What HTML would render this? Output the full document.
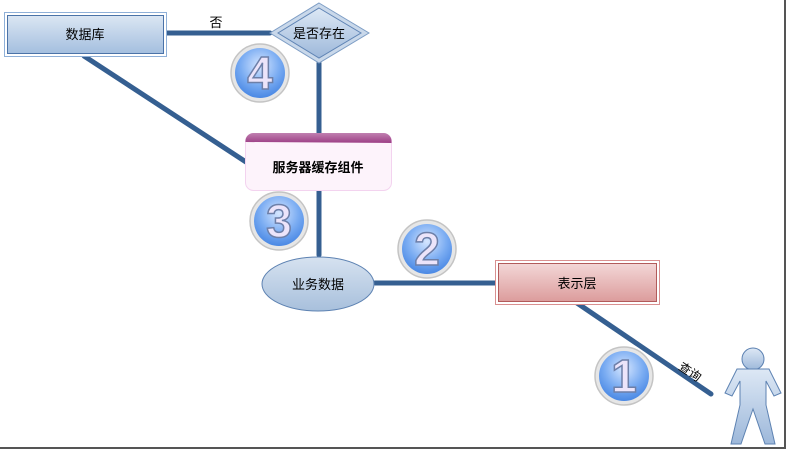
<!DOCTYPE html>
<html><head><meta charset="utf-8"><style>
html,body{margin:0;padding:0;background:#fff;}
svg{display:block;}
text{font-family:"Liberation Sans","Noto Sans CJK SC",sans-serif;}
</style></head><body>
<svg width="787" height="451" viewBox="0 0 787 451" xmlns="http://www.w3.org/2000/svg">
<defs>
<linearGradient id="gb" x1="0" y1="0" x2="0" y2="1"><stop offset="0" stop-color="#dbe6f3"/><stop offset="1" stop-color="#a4bfdf"/></linearGradient>
<linearGradient id="gr" x1="0" y1="0" x2="0" y2="1"><stop offset="0" stop-color="#f3d7d7"/><stop offset="1" stop-color="#dc9c9c"/></linearGradient>
<linearGradient id="gp" x1="0" y1="0" x2="0" y2="1"><stop offset="0" stop-color="#c080b0"/><stop offset="1" stop-color="#9c3e85"/></linearGradient>
<linearGradient id="ge" x1="0" y1="0" x2="0" y2="1"><stop offset="0" stop-color="#d6e2f0"/><stop offset="1" stop-color="#a8c0dc"/></linearGradient>
<radialGradient id="gc" cx="0.5" cy="0.35" r="0.65"><stop offset="0" stop-color="#d6e6ff"/><stop offset="0.6" stop-color="#7aacf2"/><stop offset="1" stop-color="#4a88e4"/></radialGradient>
<linearGradient id="gm" x1="0" y1="0" x2="0" y2="1"><stop offset="0" stop-color="#dde8f5"/><stop offset="1" stop-color="#9db8da"/></linearGradient>
</defs>
<rect x="0" y="0" width="785" height="448" fill="#fff"/>
<line x1="785" y1="0" x2="785" y2="449" stroke="#555" stroke-width="2"/>
<line x1="0" y1="448" x2="786" y2="448" stroke="#555" stroke-width="2"/>
<g stroke="#355f91" stroke-width="5" stroke-linecap="round" fill="none">
<line x1="164" y1="33" x2="270" y2="33"/>
<line x1="319" y1="63" x2="319" y2="133"/>
<line x1="84" y1="56" x2="246" y2="162"/>
<line x1="319" y1="190" x2="319" y2="255"/>
<line x1="375" y1="283" x2="497" y2="283"/>
<line x1="577" y1="303" x2="711" y2="394"/>
</g>
<text x="216" y="27" font-size="13" text-anchor="middle" fill="#000">否</text>
<rect x="4.5" y="12.5" width="162" height="44" fill="#fff" stroke="#8fb0d8"/>
<rect x="7.5" y="15.5" width="156" height="38" fill="url(#gb)" stroke="#4b73a8"/>
<text x="85" y="39" font-size="13" text-anchor="middle">数据库</text>
<polygon points="319,3 369,33 319,63 270,33" fill="#c9d8ea" stroke="#7d9dc5"/>
<polygon points="319,8 361,33 319,58 278,33" fill="url(#gm)" stroke="#5f84b5"/>
<text x="319" y="38" font-size="13" text-anchor="middle">是否存在</text>
<rect x="245.5" y="133.5" width="146" height="57" rx="8" fill="#fdf3fb" stroke="#f3d3ef"/>
<path d="M245.5,142 v-1 a8,8 0 0 1 8,-8 h130 a8,8 0 0 1 8,8 v2 z" fill="url(#gp)"/>
<text x="318" y="172" font-size="13" font-weight="bold" text-anchor="middle">服务器缓存组件</text>
<ellipse cx="318" cy="284" rx="56" ry="27" fill="url(#ge)" stroke="#5d82b2"/>
<text x="318" y="289" font-size="13" text-anchor="middle">业务数据</text>
<rect x="495.5" y="260.5" width="164" height="44" fill="#fff" stroke="#d99090"/>
<rect x="498.5" y="263.5" width="158" height="38" fill="url(#gr)" stroke="#b25b5b"/>
<text x="577" y="288" font-size="13" text-anchor="middle">表示层</text>
<g font-size="46" font-weight="bold" text-anchor="middle" fill="#ece4fa" stroke="#6d7fa8" stroke-width="1.5">
<circle cx="260" cy="73" r="29" fill="#e6e6e6" stroke="#c4c4c4"/><circle cx="260" cy="73" r="25" fill="url(#gc)" stroke="none"/><text x="260" y="89">4</text>
<circle cx="279" cy="221" r="29" fill="#e6e6e6" stroke="#c4c4c4"/><circle cx="279" cy="221" r="25" fill="url(#gc)" stroke="none"/><text x="279" y="237">3</text>
<circle cx="427" cy="249" r="29" fill="#e6e6e6" stroke="#c4c4c4"/><circle cx="427" cy="249" r="25" fill="url(#gc)" stroke="none"/><text x="427" y="265">2</text>
<circle cx="624" cy="376" r="29" fill="#e6e6e6" stroke="#c4c4c4"/><circle cx="624" cy="376" r="25" fill="url(#gc)" stroke="none"/><text x="624" y="392">1</text>
</g>
<text x="690" y="376" font-size="12" text-anchor="middle" transform="rotate(34 690 372)">查询</text>
<circle cx="753" cy="359" r="11" fill="url(#gm)" stroke="#5d82b2"/>
<polygon points="737,369 769,369 781,393 774,396 766,381 766,405 775,444 765,444 753,409 741,444 731,444 740,405 740,381 732,396 725,393" fill="url(#gm)" stroke="#5d82b2"/>
</svg>
</body></html>
